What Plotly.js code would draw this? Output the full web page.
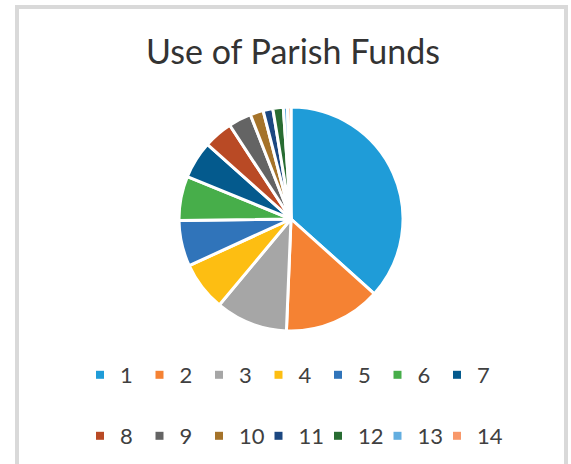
<!DOCTYPE html>
<html>
<head>
<meta charset="utf-8">
<script src="https://cdn.plot.ly/plotly-3.0.1.min.js"></script>
<style>
html,body{margin:0;padding:0;background:#fff;}
#chart{width:571px;height:464px;}
/* let the fixed-width legend entries overflow instead of being clipped */
#chart g.scrollbox{clip-path:none !important;}
</style>
</head>
<body>
<div id="chart"></div>
<script>
const labels = ["1","2","3","4","5","6","7","8","9","10","11","12","13","14"];
const values = [36.6, 14.0, 10.4, 7.1, 6.6, 6.4, 5.4, 4.2, 3.3, 1.9, 1.4, 1.5, 0.6, 0.5];
const colors = ["#1F9CD8","#F58233","#A6A6A6","#FDBE12","#3074BA","#47AE4A","#045A8D",
                "#B94A25","#646464","#A5732A","#1B4781","#286C32","#63AEE0","#F8986A"];
const chartTitle = "Use of Parish Funds";

const W = 571, H = 464;
const traces = [{
  type: "pie",
  labels: labels,
  values: values,
  sort: false,
  direction: "clockwise",
  rotation: 0,
  textinfo: "none",
  hoverinfo: "label+percent",
  showlegend: false,
  marker: {colors: colors, line: {color: "#ffffff", width: 3}},
  domain: {x: [(291-112)/W, (291+112)/W], y: [(H-219-112)/H, (H-219+112)/H]}
}];
labels.forEach((lab, i) => {
  traces.push({
    type: "scatter", mode: "markers", x: [null], y: [null],
    name: lab, legend: i < 7 ? "legend" : "legend2",
    marker: {symbol: "square", size: 8, color: colors[i]},
    hoverinfo: "skip"
  });
});

const legendCommon = {
  orientation: "h", xanchor: "left", yanchor: "middle",
  entrywidth: 14.5, entrywidthmode: "pixels",
  font: {family: "Lato, 'Open Sans', sans-serif", size: 22, color: "#404040"},
  bgcolor: "rgba(0,0,0,0)", itemclick: false
};

const layout = {
  width: W, height: H,
  margin: {l: 0, r: 0, t: 0, b: 0},
  paper_bgcolor: "#ffffff", plot_bgcolor: "#ffffff",
  title: {text: chartTitle, x: 293/W, xanchor: "center", y: 1 - 52/H, yanchor: "middle",
          font: {family: "Lato, 'Open Sans', sans-serif", size: 34, color: "#333333"}},
  xaxis: {visible: false}, yaxis: {visible: false},
  legend: Object.assign({}, legendCommon, {x: 80/W, y: 1 - 375/H}),
  legend2: Object.assign({}, legendCommon, {x: 80/W, y: 1 - 436/H}),
  shapes: [{type: "rect", xref: "paper", yref: "paper",
            x0: 17/W, x1: 566/W, y0: -0.02, y1: 1 - 7/H,
            line: {color: "#d9d9d9", width: 4}, fillcolor: "rgba(0,0,0,0)", layer: "below"}],
  showlegend: true
};

Plotly.newPlot("chart", traces, layout, {displayModeBar: false, staticPlot: true});
</script>
</body>
</html>
